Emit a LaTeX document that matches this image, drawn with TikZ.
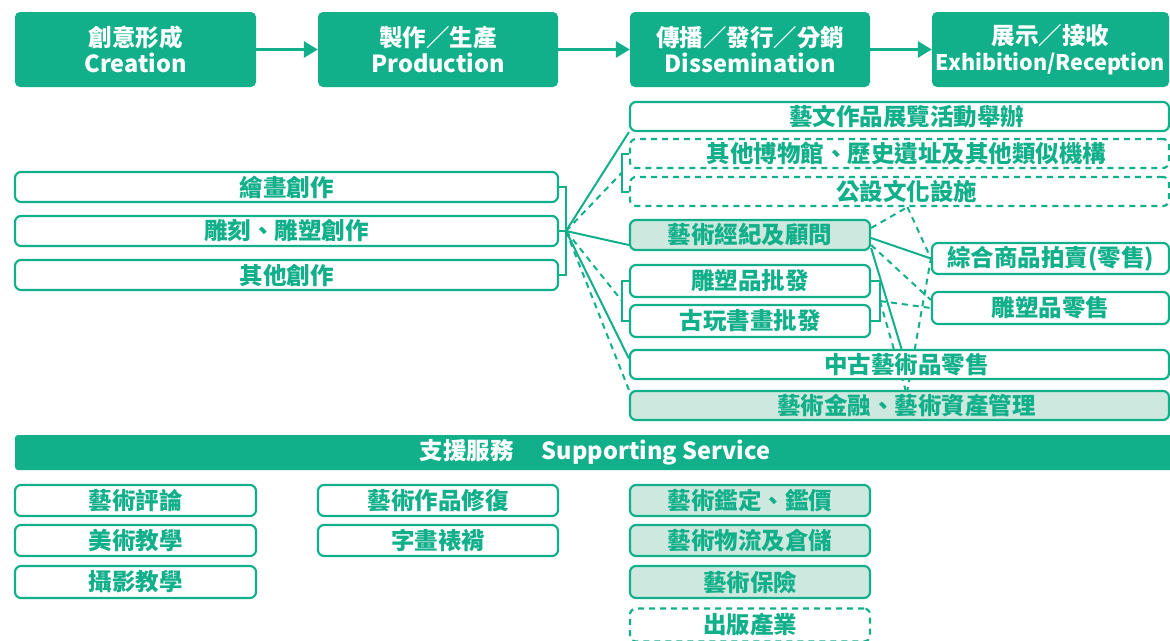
\documentclass[tikz,border=0pt]{standalone}
\usepackage{fontspec}
\setmainfont{Noto Sans CJK TC}
\usetikzlibrary{arrows.meta}
\definecolor{dgreen}{HTML}{12B08A}
\definecolor{lgreen}{HTML}{CDE8DE}
\pgfdeclarelayer{bg}
\pgfsetlayers{bg,main}
\tikzstyle{stage}=[rectangle, rounded corners=5pt, fill=dgreen, text=white, font=\bfseries\fontsize{23.5}{26}\selectfont, align=center, inner sep=0pt, minimum height=75pt]
\tikzstyle{itembox}=[rectangle, rounded corners=6pt, draw=dgreen, line width=2.2pt, fill=white, text=dgreen, font=\bfseries\fontsize{23.5}{26}\selectfont, inner sep=0pt, minimum height=30pt]
\tikzstyle{softbox}=[itembox, fill=lgreen]
\tikzstyle{dashbox}=[itembox, dash pattern=on 6pt off 5pt]
\tikzstyle{solidlink}=[draw=dgreen, line width=2pt]
\tikzstyle{dashlink}=[draw=dgreen, line width=2pt, dash pattern=on 6pt off 5pt]
\tikzstyle{flow}=[draw=dgreen, line width=3pt, -{Triangle[length=14pt,width=16pt]}]

\begin{document}
\begin{tikzpicture}[x=1pt,y=-1pt]
  \useasboundingbox (0,0) rectangle (1170,640);
  % value chain
  \node[stage, minimum width=241pt] (cre) at (135.5,49.5) {創意形成\\Creation};
  \node[stage, minimum width=240pt] (pro) at (438,49.5) {製作／生產\\Production};
  \node[stage, minimum width=240pt] (dis) at (750,49.5) {傳播／發行／分銷\\Dissemination};
  \node[stage, minimum width=237pt] (exh) at (1050.5,49.5) {展示／接收\\{\fontsize{21.5}{26}\selectfont Exhibition/Reception}};
  \draw[flow] (cre) -- (pro);
  \draw[flow] (pro) -- (dis);
  \draw[flow] (dis) -- (exh);

  % creation
  \node[itembox, minimum width=543pt] (paint) at (286.5,187) {繪畫創作};
  \node[itembox, minimum width=543pt] (carve) at (286.5,231) {雕刻、雕塑創作};
  \node[itembox, minimum width=543pt] (other) at (286.5,275) {其他創作};

  % dissemination and reception
  \node[itembox, minimum width=539pt, minimum height=29pt] (exhib) at (899.5,116.5) {\hspace{14pt}藝文作品展覽活動舉辦};
  \node[dashbox, minimum width=539pt, minimum height=29pt] (museum) at (899.5,153.5) {\hspace{14pt}其他博物館、歷史遺址及其他類似機構};
  \node[dashbox, minimum width=539pt, minimum height=29pt] (public) at (899.5,191.5) {\hspace{14pt}公設文化設施};
  \node[softbox, minimum width=240pt] (agent) at (750,235) {藝術經紀及顧問};
  \node[itembox, minimum width=240pt, minimum height=32pt] (sculptwh) at (750,281) {雕塑品批發};
  \node[itembox, minimum width=240pt, minimum height=32pt] (antiquewh) at (750,321) {古玩書畫批發};
  \node[itembox, minimum width=237pt, minimum height=31pt] (auction) at (1050.5,258.5) {綜合商品拍賣(零售)};
  \node[itembox, minimum width=237pt, minimum height=32pt] (sculptretail) at (1050.5,308) {雕塑品零售};
  \node[itembox, minimum width=539pt, minimum height=29pt] (oldretail) at (899.5,364.5) {\hspace{14pt}中古藝術品零售};
  \node[softbox, minimum width=539pt, minimum height=29pt] (finance) at (899.5,405.5) {\hspace{14pt}藝術金融、藝術資產管理};

  \coordinate (hub) at (566,231);
  \coordinate (mus) at (622,172.5);
  \coordinate (whl) at (622,301);
  \coordinate (whr) at (880,301);

  \begin{pgfonlayer}{bg}
    \draw[solidlink] (paint.east) -| (hub) |- (other.east);
    \draw[solidlink] (carve.east) -- (hub);
    \draw[solidlink] (museum.west) -| (mus) |- (public.west);
    \draw[solidlink] (sculptwh.west) -| (whl) |- (antiquewh.west);
    \draw[solidlink] (sculptwh.east) -| (whr) |- (antiquewh.east);
    % from creation
    \draw[solidlink] (hub) -- (exhib.south west);
    \draw[dashlink] (hub) -- (mus);
    \draw[solidlink] (hub) -- ([yshift=-10pt]agent.west);
    \draw[dashlink] (hub) -- (whl);
    \draw[solidlink] (hub) -- ([yshift=6pt]oldretail.west);
    \draw[dashlink] (hub) -- (finance.north west);
    % from agent
    \draw[dashlink] ([yshift=7pt]agent.east) -- ([xshift=8pt]public.south);
    \draw[solidlink] ([yshift=-3pt]agent.east) -- (auction.west);
    \draw[dashlink] ([yshift=-10pt]agent.east) -- ([yshift=8pt]sculptretail.west);
    \draw[solidlink] ([yshift=-13pt]agent.east) -- ([xshift=2pt]oldretail.north);
    \draw[dashlink] ([xshift=8pt]public.south) -- (auction.west) -- ([xshift=8pt]finance.north);
    % from wholesale
    \draw[dashlink] (whr) -- (sculptretail.west);
    \draw[dashlink] (whr) -- ([xshift=6pt]finance.north);
  \end{pgfonlayer}

  % supporting service
  \node[stage, minimum width=1160pt, minimum height=35pt, rounded corners=3pt] (support) at (595,452.5) {支援服務\hspace{28pt}Supporting Service};
  \node[itembox, minimum width=241pt, minimum height=31pt] (critic) at (135.5,500.5) {藝術評論};
  \node[itembox, minimum width=241pt, minimum height=31pt] (artedu) at (135.5,540.5) {美術教學};
  \node[itembox, minimum width=241pt, minimum height=32pt] (photo) at (135.5,582) {攝影教學};
  \node[itembox, minimum width=240pt, minimum height=31pt] (restore) at (438,500.5) {藝術作品修復};
  \node[itembox, minimum width=240pt, minimum height=31pt] (mount) at (438,540.5) {字畫裱褙};
  \node[softbox, minimum width=240pt, minimum height=31pt] (apprais) at (750,500.5) {藝術鑑定、鑑價};
  \node[softbox, minimum width=240pt, minimum height=31pt] (logist) at (750,540.5) {藝術物流及倉儲};
  \node[softbox, minimum width=240pt, minimum height=32pt] (insur) at (750,582) {藝術保險};
  \node[dashbox, minimum width=240pt, minimum height=33pt] (publish) at (750,625) {出版產業};
\end{tikzpicture}
\end{document}
